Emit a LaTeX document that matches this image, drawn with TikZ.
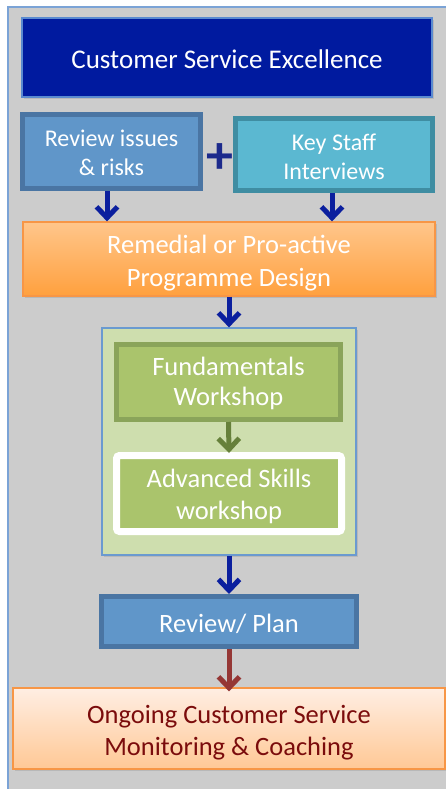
\documentclass[tikz,border=0pt]{standalone}
\usepackage{fontspec}
\setmainfont{Carlito}
\usetikzlibrary{arrows.meta,shadows}
\definecolor{bgGrey}{HTML}{CCCCCC}
\definecolor{frameBlue}{HTML}{7BA3D6}
\definecolor{titleBlue}{HTML}{001A9F}
\definecolor{titleEdge}{HTML}{5A8AD0}
\definecolor{revFill}{HTML}{6096C9}
\definecolor{revEdge}{HTML}{4A75A3}
\definecolor{keyFill}{HTML}{5BB8D1}
\definecolor{keyEdge}{HTML}{3F8DA2}
\definecolor{orangeTop}{HTML}{FFC68B}
\definecolor{orangeBot}{HTML}{FFA03E}
\definecolor{orangeEdge}{HTML}{F79646}
\definecolor{arrowBlue}{HTML}{0B1F9E}
\definecolor{plusBlue}{HTML}{1C2A8C}
\definecolor{panelGreen}{HTML}{CEDEAE}
\definecolor{panelEdge}{HTML}{6A9AD0}
\definecolor{greenFill}{HTML}{AAC46C}
\definecolor{greenEdge}{HTML}{8AA45A}
\definecolor{greenArrow}{HTML}{66803A}
\definecolor{redArrow}{HTML}{953735}
\definecolor{peachTop}{HTML}{FFEEE3}
\definecolor{peachBot}{HTML}{FFC895}
\definecolor{darkRed}{HTML}{7B0C0C}
\tikzset{
  box/.style={rectangle, inner sep=0pt, align=center, text=white,
    font=\fontsize{26.5}{32}\selectfont,
    text depth=0pt,
    drop shadow={shadow xshift=1.5pt, shadow yshift=-2pt, opacity=0.25}},
  smallbox/.style={box, font=\fontsize{24}{28.5}\selectfont},
  flow/.style={line width=5pt, -{Straight Barb[length=11pt,width=21pt]}},
}
\begin{document}
\begin{tikzpicture}[x=1pt,y=-1pt]
\useasboundingbox (0,0) rectangle (446,789);
% background panel
\fill[bgGrey] (8,7) rectangle (446,789);
\draw[frameBlue, line width=1.2pt] (8,789) -- (8,7) -- (446,7);

% title
\node[box, fill=titleBlue, draw=titleEdge, line width=1.5pt,
      font=\fontsize{27}{32}\selectfont, text height=21.6pt,
      minimum width=410pt, minimum height=79pt] (title) at (227,57.5)
      {Customer Service Excellence};

% review issues / key staff
\node[smallbox, fill=revFill, draw=revEdge, line width=5pt, text height=47pt,
      minimum width=178pt, minimum height=74pt] (rev) at (111.5,151.5)
      {Review issues\\\& risks};
\node[smallbox, fill=keyFill, draw=keyEdge, line width=5pt, text height=49.6pt,
      minimum width=197pt, minimum height=72pt] (key) at (334,154.5)
      {Key Staff\\Interviews};
\node[text=plusBlue, font=\fontsize{54}{54}\bfseries\selectfont, inner sep=0pt]
      (plus) at (220,158.5) {+};

% remedial
\node[box, top color=orangeTop, bottom color=orangeBot, draw=orangeEdge, line width=1.2pt,
      font=\fontsize{26.5}{32.5}\selectfont, text height=54pt,
      minimum width=412pt, minimum height=74pt] (rem) at (229,259)
      {Remedial or Pro-active\\Programme Design};

% green panel
\node[rectangle, fill=panelGreen, draw=panelEdge, line width=1.2pt, inner sep=0pt,
      minimum width=254pt, minimum height=227pt,
      drop shadow={shadow xshift=1.5pt, shadow yshift=-2pt, opacity=0.25}]
      (panel) at (229,441.5) {};
\node[box, fill=greenFill, draw=greenEdge, line width=5pt, drop shadow={opacity=0},
      font=\fontsize{26.5}{30.5}\selectfont, text height=47.4pt,
      minimum width=224pt, minimum height=75pt] (fund) at (228.5,382)
      {Fundamentals\\Workshop};
\node[box, fill=greenFill, draw=white, line width=7pt, rounded corners=3pt,
      font=\fontsize{26.5}{31.5}\selectfont, text height=51.6pt,
      minimum width=225pt, minimum height=76pt] (adv) at (229,493.5)
      {Advanced Skills\\workshop};

% review / plan
\node[box, fill=revFill, draw=revEdge, line width=5pt, text height=22.4pt,
      minimum width=255pt, minimum height=50pt] (plan) at (229,621.5)
      {Review/ Plan};

% ongoing
\node[box, top color=peachTop, bottom color=peachBot, draw=orangeEdge, line width=1.2pt,
      text=darkRed, font=\fontsize{26.5}{32}\selectfont, text height=53pt,
      minimum width=432pt, minimum height=81pt] (ong) at (229,728.5)
      {Ongoing Customer Service\\Monitoring \& Coaching};

% connectors
\draw[flow, arrowBlue] ([xshift=-4.5pt]rev.south) -- ([xshift=-4.5pt]rev.south |- rem.north);
\draw[flow, arrowBlue] ([xshift=-2pt]key.south) -- ([xshift=-2pt]key.south |- rem.north);
\draw[flow, arrowBlue] (rem.south) -- (panel.north);
\draw[flow, greenArrow] (fund.south) -- ([yshift=-1pt]adv.north);
\draw[flow, arrowBlue] (panel.south) -- (plan.north);
\draw[flow, redArrow] (plan.south) -- ([yshift=-4pt]ong.north);
\end{tikzpicture}
\end{document}
